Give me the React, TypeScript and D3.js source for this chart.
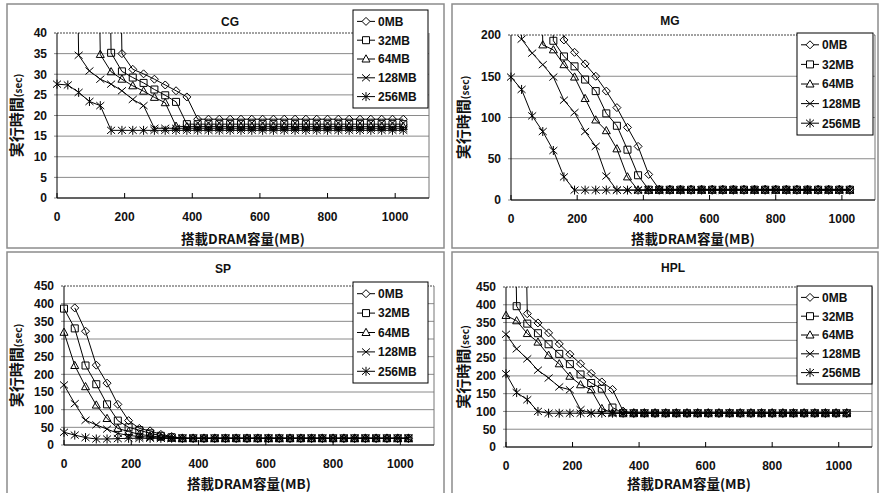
import React from 'react';
import * as d3 from 'd3';

// DRAM size on the x axis (MB)
const MEM = [0, 32, 64, 96, 128, 160, 192, 224, 256, 288, 320, 352, 384, 416, 448, 480, 512,
    544, 576, 608, 640, 672, 704, 736, 768, 800, 832, 864, 896, 928, 960, 992, 1024];

const SERIES_NAMES = ['0MB', '32MB', '64MB', '128MB', '256MB'];
const X_TICKS = [0, 200, 400, 600, 800, 1000];
const CG_Y_TICKS = [0, 5, 10, 15, 20, 25, 30, 35, 40];
const MG_Y_TICKS = [0, 50, 100, 150, 200];
const SP_Y_TICKS = [0, 50, 100, 150, 200, 250, 300, 350, 400, 450];
const HPL_Y_TICKS = [0, 50, 100, 150, 200, 250, 300, 350, 400, 450];

const _ = null;

// CG (sec); values above the axis are off-chart points
const CG_0MB = [_, _, _, _, _, 200, 35, 31.2, 30.1, 28.8, 27.4, 26, 24.5, 19.1, 19.1, 19.1, 19.1,
    19.1, 19.1, 19.1, 19.1, 19.1, 19.1, 19.1, 19.1, 19.1, 19.1, 19.1, 19.1, 19.1, 19.1, 19.1, 19.1];
const CG_32MB = [_, _, _, _, 200, 35.2, 30.7, 29.2, 27.9, 26.3, 24.9, 23.3, 17.9, 17.9, 17.9, 17.9, 17.9,
    17.9, 17.9, 17.9, 17.9, 17.9, 17.9, 17.9, 17.9, 17.9, 17.9, 17.9, 17.9, 17.9, 17.9, 17.9, 17.9];
const CG_64MB = [_, _, _, 200, 34.8, 30.6, 28.8, 27.2, 25.9, 24.4, 23.1, 17.4, 17.3, 17.3, 17.3, 17.3, 17.3,
    17.3, 17.3, 17.3, 17.3, 17.3, 17.3, 17.3, 17.3, 17.3, 17.3, 17.3, 17.3, 17.3, 17.3, 17.3, 17.3];
const CG_128MB = [_, 200, 34.6, 30.8, 28.8, 27.6, 26, 23.9, 22.4, 16.9, 16.9, 16.9, 16.9, 16.9, 16.9, 16.9, 16.9,
    16.9, 16.9, 16.9, 16.9, 16.9, 16.9, 16.9, 16.9, 16.9, 16.9, 16.9, 16.9, 16.9, 16.9, 16.9, 16.9];
const CG_256MB = [27.6, 27.4, 25.6, 23.4, 22.4, 16.4, 16.4, 16.4, 16.4, 16.4, 16.4, 16.4, 16.4, 16.4, 16.4, 16.4, 16.4,
    16.4, 16.4, 16.4, 16.4, 16.4, 16.4, 16.4, 16.4, 16.4, 16.4, 16.4, 16.4, 16.4, 16.4, 16.4, 16.4];

// MG (sec)
const MG_0MB = [_, _, _, _, 1000, 194, 179, 165, 150, 132, 112, 88, 65, 31, 13, 13, 13,
    13, 13, 13, 13, 13, 13, 13, 13, 13, 13, 13, 13, 13, 13, 13, 13];
const MG_32MB = [_, _, _, 1000, 193, 174, 162, 146, 132, 105, 90, 61, 30, 12.5, 12.5, 12.5, 12.5,
    12.5, 12.5, 12.5, 12.5, 12.5, 12.5, 12.5, 12.5, 12.5, 12.5, 12.5, 12.5, 12.5, 12.5, 12.5, 12.5];
const MG_64MB = [_, _, 1000, 188, 182, 164, 149, 123, 97, 84, 62, 28, 12, 12, 12, 12, 12,
    12, 12, 12, 12, 12, 12, 12, 12, 12, 12, 12, 12, 12, 12, 12, 12];
const MG_128MB = [1000, 195, 178, 164, 149, 121, 106, 83, 65, 29, 12, 12, 12, 12, 12, 12, 12,
    12, 12, 12, 12, 12, 12, 12, 12, 12, 12, 12, 12, 12, 12, 12, 12];
const MG_256MB = [149, 134, 102, 83, 60, 28, 12, 12, 12, 12, 12, 12, 12, 12, 12, 12, 12,
    12, 12, 12, 12, 12, 12, 12, 12, 12, 12, 12, 12, 12, 12, 12, 12];

// SP (sec)
const SP_0MB = [_, 388, 322, 226, 175, 115, 69, 47, 40, 30, 24, 19, 19, 19, 19, 19, 19,
    19, 19, 19, 19, 19, 19, 19, 19, 19, 19, 19, 19, 19, 19, 19, 19];
const SP_32MB = [386, 330, 225, 172, 115, 69, 50, 42, 33, 26, 22, 19, 19, 19, 19, 19, 19,
    19, 19, 19, 19, 19, 19, 19, 19, 19, 19, 19, 19, 19, 19, 19, 19];
const SP_64MB = [319, 225, 165, 113, 75, 47, 38, 30, 26, 22, 19, 19, 19, 19, 19, 19, 19,
    19, 19, 19, 19, 19, 19, 19, 19, 19, 19, 19, 19, 19, 19, 19, 19];
const SP_128MB = [170, 117, 70, 57, 45, 33, 27, 24, 22, 19, 19, 19, 19, 19, 19, 19, 19,
    19, 19, 19, 19, 19, 19, 19, 19, 19, 19, 19, 19, 19, 19, 19, 19];
const SP_256MB = [36, 28, 21, 17, 17, 18, 19, 19, 19, 19, 19, 19, 19, 19, 19, 19, 19,
    19, 19, 19, 19, 19, 19, 19, 19, 19, 19, 19, 19, 19, 19, 19, 19];

// HPL (sec)
const HPL_0MB = [_, 2000, 375, 349, 321, 290, 261, 234, 207, 183, 162, 101, 95, 95, 95, 95, 95,
    95, 95, 95, 95, 95, 95, 95, 95, 95, 95, 95, 95, 95, 95, 95, 95];
const HPL_32MB = [2000, 396, 347, 320, 289, 262, 233, 204, 180, 164, 111, 95, 95, 95, 95, 95, 95,
    95, 95, 95, 95, 95, 95, 95, 95, 95, 95, 95, 95, 95, 95, 95, 95];
const HPL_64MB = [370, 355, 319, 295, 258, 234, 199, 175, 161, 108, 96, 96, 96, 96, 96, 96, 96,
    96, 96, 96, 96, 96, 96, 96, 96, 96, 96, 96, 96, 96, 96, 96, 96];
const HPL_128MB = [317, 276, 248, 216, 194, 169, 161, 105, 95, 95, 95, 95, 95, 95, 95, 95, 95,
    95, 95, 95, 95, 95, 95, 95, 95, 95, 95, 95, 95, 95, 95, 95, 95];
const HPL_256MB = [206, 153, 133, 100, 95, 95, 95, 95, 95, 95, 95, 95, 95, 95, 95, 95, 95,
    95, 95, 95, 95, 95, 95, 95, 95, 95, 95, 95, 95, 95, 95, 95, 95];

const NUM_FONT = '"Liberation Sans", Arial, sans-serif';
const JP_FONT = '"Noto Sans CJK JP", "Noto Sans", sans-serif';

// marker shapes, relative to the point
const MARKER_PATHS = [
    'M0,-4L4,0L0,4L-4,0Z',
    'M-3.5,-3.5h7v7h-7Z',
    'M0,-4.2L4,3L-4,3Z',
    'M-4,-3.5L4,3.5M-4,3.5L4,-3.5',
    'M-4,-3.5L4,3.5M-4,3.5L4,-3.5M0,-4.5L0,4.5',
];

const PANELS = [
    {
        id: 'cg', title: 'CG', yTicks: CG_Y_TICKS,
        series: [CG_0MB, CG_32MB, CG_64MB, CG_128MB, CG_256MB],
        frame: { x: 7, y: 4, w: 437, h: 244 },
        plot: { l: 57, r: 429, t: 33, b: 198 },
        legend: { x: 353, y: 10, w: 75, h: 98 },
        titleX: 230, titleY: 22, yLabelX: 16, xLabelY: 239,
    },
    {
        id: 'mg', title: 'MG', yTicks: MG_Y_TICKS,
        series: [MG_0MB, MG_32MB, MG_64MB, MG_128MB, MG_256MB],
        frame: { x: 452, y: 4, w: 426, h: 244 },
        plot: { l: 511, r: 875, t: 35, b: 200 },
        legend: { x: 797, y: 33, w: 76, h: 102 },
        titleX: 670, titleY: 21, yLabelX: 463, xLabelY: 239,
    },
    {
        id: 'sp', title: 'SP', yTicks: SP_Y_TICKS,
        series: [SP_0MB, SP_32MB, SP_64MB, SP_128MB, SP_256MB],
        frame: { x: 7, y: 252, w: 437, h: 245 },
        plot: { l: 64, r: 434, t: 286, b: 445 },
        legend: { x: 353, y: 282, w: 75, h: 101 },
        titleX: 223, titleY: 269, yLabelX: 16, xLabelY: 484,
    },
    {
        id: 'hpl', title: 'HPL', yTicks: HPL_Y_TICKS,
        series: [HPL_0MB, HPL_32MB, HPL_64MB, HPL_128MB, HPL_256MB],
        frame: { x: 452, y: 252, w: 426, h: 245 },
        plot: { l: 506, r: 872, t: 287, b: 447 },
        legend: { x: 797, y: 286, w: 75, h: 98 },
        titleX: 673, titleY: 268, yLabelX: 463, xLabelY: 484,
    },
];

const Panel = ({ cfg }) => {
    const { plot, legend, frame, yTicks } = cfg;
    const yMax = yTicks[yTicks.length - 1];

    const x = d3.scaleLinear().domain([0, 1100]).range([plot.l, plot.r]);
    const y = d3.scaleLinear().domain([0, yMax]).range([plot.b, plot.t]);

    const line = d3.line<number | null>()
        .defined(v => v != null)
        .x((_v, i) => x(MEM[i]))
        .y(v => y(v as number));

    const midY = (plot.t + plot.b) / 2;
    const midX = (plot.l + plot.r) / 2;
    const rowH = (legend.h - 4) / 5;

    return (
        <g>
            <rect x={frame.x} y={frame.y} width={frame.w} height={frame.h}
                fill="none" stroke="#8c8c8c" strokeWidth={1.5} />
            <clipPath id={`clip-${cfg.id}`}>
                <rect x={plot.l} y={plot.t} width={plot.r - plot.l} height={plot.b - plot.t} />
            </clipPath>

            {/* grid */}
            {yTicks.map(t => (
                <line key={t} x1={plot.l - 3} x2={plot.r} y1={y(t)} y2={y(t)}
                    stroke={t === yMax ? '#444' : '#8a8a8a'} strokeWidth={1}
                    strokeDasharray={t === yMax ? '2,1' : null} />
            ))}
            <line x1={plot.r} x2={plot.r} y1={plot.t} y2={plot.b} stroke="#777" />
            <line x1={plot.l} x2={plot.l} y1={plot.t} y2={plot.b} stroke="#000" />
            <line x1={plot.l} x2={plot.r} y1={plot.b} y2={plot.b} stroke="#000" />
            {X_TICKS.map(t => (
                <line key={t} x1={x(t)} x2={x(t)} y1={plot.b} y2={plot.b - 5} stroke="#000" />
            ))}

            {/* tick labels */}
            {yTicks.map(t => (
                <text key={t} x={plot.l - 10} y={y(t)} dy="0.36em" textAnchor="end"
                    fontFamily={NUM_FONT} fontWeight="bold" fontSize={12} fill="#111">{t}</text>
            ))}
            {X_TICKS.map(t => (
                <text key={t} x={x(t)} y={plot.b + 19} dy="0.36em" textAnchor="middle"
                    fontFamily={NUM_FONT} fontWeight="bold" fontSize={12} fill="#111">{t}</text>
            ))}

            {/* series */}
            <g clipPath={`url(#clip-${cfg.id})`}>
                {cfg.series.map((vals, si) => (
                    <path key={si} d={line(vals)} fill="none" stroke="#000" strokeWidth={1} />
                ))}
            </g>
            {cfg.series.map((vals, si) => (
                <g key={si}>
                    {vals.map((v, i) => (v == null || v > yMax ? null : (
                        <path key={i} d={MARKER_PATHS[si]}
                            transform={`translate(${x(MEM[i])},${y(v)})`}
                            fill="none" stroke="#000" strokeWidth={1} />
                    )))}
                </g>
            ))}

            {/* titles */}
            <text x={cfg.titleX} y={cfg.titleY} dy="0.36em" textAnchor="middle"
                fontFamily={NUM_FONT} fontWeight="bold" fontSize={12} fill="#111">{cfg.title}</text>
            <text transform={`translate(${cfg.yLabelX},${midY}) rotate(-90)`} dy="0.36em"
                textAnchor="middle" fontFamily={JP_FONT} fontWeight="bold" fill="#111">
                <tspan fontSize={15}>実行時間</tspan>
                <tspan fontSize={10}>(sec)</tspan>
            </text>
            <text x={midX} y={cfg.xLabelY} dy="0.36em" textAnchor="middle"
                fontFamily={JP_FONT} fontWeight="bold" fontSize={13.5} fill="#111">搭載DRAM容量(MB)</text>

            {/* legend */}
            <rect x={legend.x} y={legend.y} width={legend.w} height={legend.h}
                fill="#fff" stroke="#000" strokeWidth={1} />
            {SERIES_NAMES.map((name, si) => {
                const cy = legend.y + 2 + rowH * (si + 0.5);
                return (
                    <g key={name}>
                        <line x1={legend.x + 4} x2={legend.x + 22} y1={cy} y2={cy} stroke="#000" />
                        <path d={MARKER_PATHS[si]} transform={`translate(${legend.x + 13},${cy})`}
                            fill="#fff" stroke="#000" />
                        <text x={legend.x + 25} y={cy} dy="0.36em" fontFamily={NUM_FONT}
                            fontWeight="bold" fontSize={12} fill="#111">{name}</text>
                    </g>
                );
            })}
        </g>
    );
};

const App = () => (
    <svg width={880} height={493} style={{ position: 'absolute', left: 0, top: 0, background: '#fff' }}>
        <rect width={880} height={493} fill="#fff" />
        {PANELS.map(p => <Panel key={p.id} cfg={p} />)}
    </svg>
);

export default App;
